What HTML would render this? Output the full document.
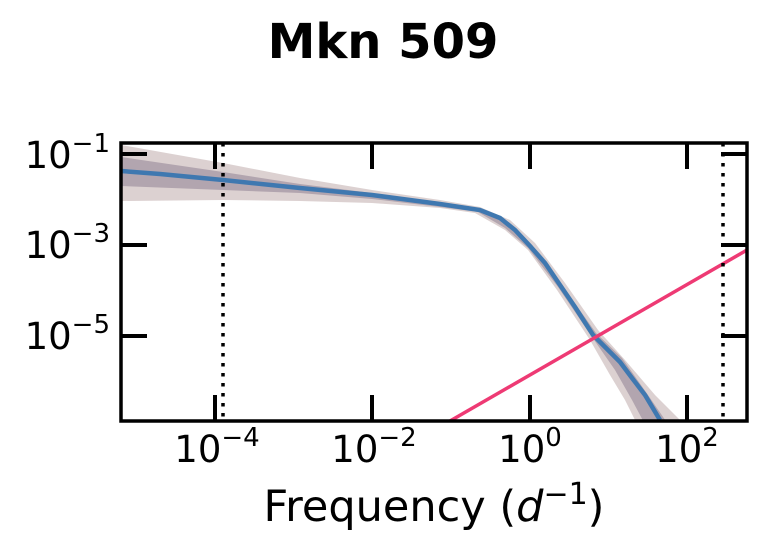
<!DOCTYPE html>
<html><head><style>body{margin:0;background:#fff}svg{display:block}text{font-family:"DejaVu Sans","Liberation Sans",sans-serif}</style></head><body>
<svg width="766" height="553" viewBox="0 0 766 553" xmlns="http://www.w3.org/2000/svg">
<text x="383" y="58" text-anchor="middle" style="font-size:48px;font-weight:bold">Mkn 509</text>
<defs><clipPath id="c"><rect x="121" y="143" width="626" height="278"/></clipPath></defs>
<g clip-path="url(#c)">
<path d="M121,145 L223,163 L300,178 L372,190 L440,200 L480,207 L510,220 L535,243 L565,283 L598,330 L625,360 L655,395 L690,430 L640,430 L625,400 L610,375 L590,340 L557,290 L528,250 L505,230 L475,213 L440,208 L372,203 L300,201 L223,200 L121,201 Z" fill="#d8cccc" opacity="0.9"/>
<path d="M121,157 L223,172 L300,184 L372,193 L440,204 L480,209 L508,223 L532,245 L562,285 L596,333 L622,358 L648,395 L672,430 L648,430 L632,400 L615,370 L592,337 L558,287 L528,248 L505,228 L478,212 L440,207 L372,199 L300,193 L223,190 L121,186 Z" fill="#a89aa6" opacity="0.8"/>
<polyline points="121,171 160,174 223,180 300,188 372,195 440,204 480,210 500,218 515,230 530,246 545,263 560,285 575,307 593,335 608,350 620,362 632,378 645,395 660,420" fill="none" stroke="#e08a3c" stroke-width="2"/>
<polyline points="121,171 160,174 223,180 300,188 372,195 440,204 480,210 500,218 515,230 530,246 545,263 560,285 575,307 593,335 608,350 620,362 632,378 645,395 660,420" fill="none" stroke="#3f78b0" stroke-width="4.5"/>
<line x1="450" y1="421" x2="747" y2="250" stroke="#ee3a74" stroke-width="3.5"/>
</g>
<line x1="223" y1="143" x2="223" y2="421" stroke="#000" stroke-width="3.5" stroke-dasharray="3.5,6.5"/>
<line x1="723" y1="143" x2="723" y2="421" stroke="#000" stroke-width="3.5" stroke-dasharray="3.5,6.5"/>
<g stroke="#000" stroke-width="4">
<line x1="121" y1="154" x2="147" y2="154"/><line x1="121" y1="245" x2="147" y2="245"/><line x1="121" y1="336" x2="147" y2="336"/>
<line x1="721" y1="154" x2="747" y2="154"/><line x1="721" y1="245" x2="747" y2="245"/><line x1="721" y1="336" x2="747" y2="336"/>
<line x1="215" y1="143" x2="215" y2="169"/><line x1="372" y1="143" x2="372" y2="169"/><line x1="530" y1="143" x2="530" y2="169"/><line x1="687" y1="143" x2="687" y2="169"/>
<line x1="215" y1="395" x2="215" y2="421"/><line x1="372" y1="395" x2="372" y2="421"/><line x1="530" y1="395" x2="530" y2="421"/><line x1="687" y1="395" x2="687" y2="421"/>
</g>
<rect x="121" y="143" width="626" height="278" fill="none" stroke="#000" stroke-width="3.5"/>
<g text-anchor="end" style="font-size:37px">
<text x="110" y="168">10<tspan dy="-16" style="font-size:26px">−1</tspan></text>
<text x="110" y="258">10<tspan dy="-16" style="font-size:26px">−3</tspan></text>
<text x="110" y="349">10<tspan dy="-16" style="font-size:26px">−5</tspan></text>
</g>
<g text-anchor="middle" style="font-size:37px">
<text x="217" y="462">10<tspan dy="-16" style="font-size:26px">−4</tspan></text>
<text x="374" y="462">10<tspan dy="-16" style="font-size:26px">−2</tspan></text>
<text x="530" y="462">10<tspan dy="-16" style="font-size:26px">0</tspan></text>
<text x="687" y="462">10<tspan dy="-16" style="font-size:26px">2</tspan></text>
</g>
<text x="434" y="521" text-anchor="middle" style="font-size:43px">Frequency (<tspan style="font-style:italic">d</tspan><tspan dy="-17" style="font-size:30px">−1</tspan><tspan dy="17">)</tspan></text>
</svg>
</body></html>
